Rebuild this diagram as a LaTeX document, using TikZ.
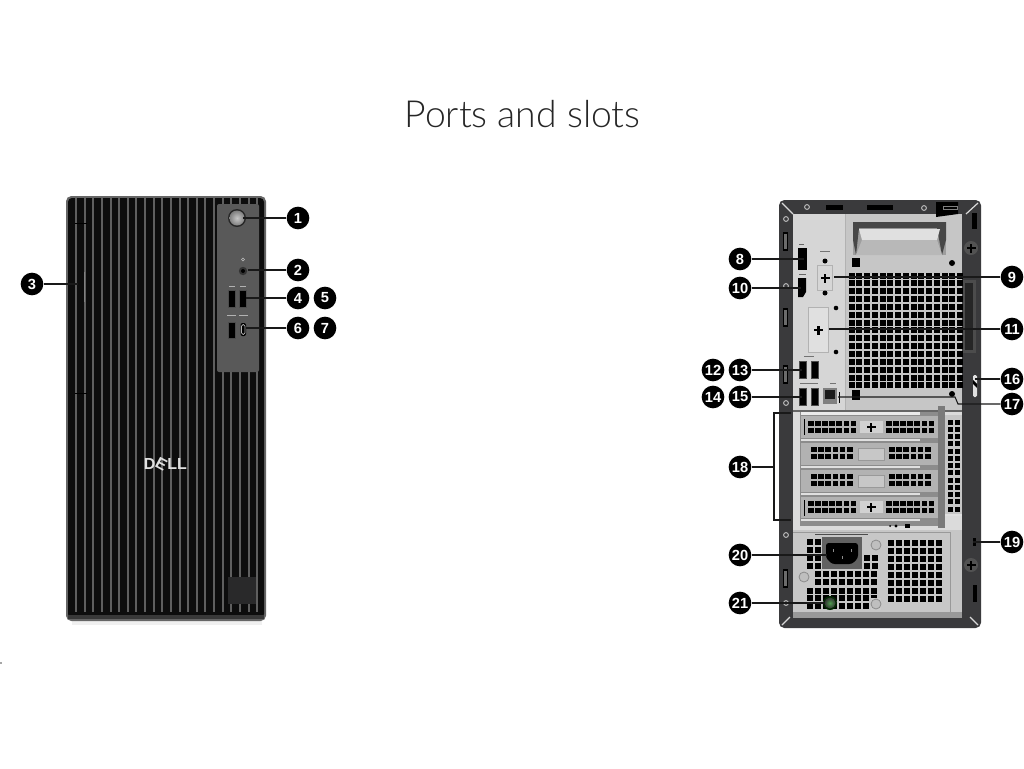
\documentclass[tikz,border=0pt]{standalone}
\usepackage{fontspec}
\setmainfont{Liberation Sans}
\newfontfamily\titlefont{Lato Light}
\usetikzlibrary{calc}
\definecolor{stripe}{HTML}{5F5F5F}
\definecolor{silver}{HTML}{C6C6C6}
\definecolor{framec}{HTML}{3A3A3C}
\tikzset{
  x=0.75pt,y=-0.75pt,
  badge/.style={circle,fill=black,text=white,inner sep=0pt,minimum size=17pt,font=\bfseries\fontsize{11}{12}\selectfont},
  leader/.style={draw=black!90,line width=0.8pt},
  usb/.style={fill=black,draw=black!70,line width=0.4pt},
  ring/.style={draw=white!75!black,line width=0.7pt,fill=framec},
}
% \ventgrid{x0}{y0}{cols}{rows}{dx}{dy}{w}{h}
\newcommand{\ventgrid}[8]{%
  \foreach \ci in {1,...,#3}{\foreach \cj in {1,...,#4}{%
    \fill[black] ({#1+(\ci-1)*#5},{#2+(\cj-1)*#6}) rectangle ++(#7,#8);}}}
\newcommand{\plusmark}[2]{%
  \fill[black] ({#1-4.5},{#2-1.2}) rectangle ({#1+4.5},{#2+1.2});
  \fill[black] ({#1-1.2},{#2-4.5}) rectangle ({#1+1.2},{#2+4.5});}
\begin{document}
\begin{tikzpicture}
\useasboundingbox (0,0) rectangle (1024,768);
\fill[white] (0,0) rectangle (1024,768);
\node[text=black!85,font=\titlefont\fontsize{28}{32}\selectfont] (title) at (522.5,114) {Ports and slots};
\fill[black!35] (0,662) rectangle (2,664);

%%% FRONT
\fill[black!6] (72,619) rectangle (262,625);
\fill[rounded corners=4pt,fill=black!60] (66,196) rectangle (266,621);
\fill[rounded corners=3pt,fill=black!95] (68,198) rectangle (264,618);
\fill[black!78] (68,615) rectangle (264,619);
\foreach \i in {0,...,21}{
  \fill[stripe] ({75+\i*8.63},198) rectangle ++(2,414);
}
\fill[black] (75,222.5) rectangle (87,224);
\fill[black] (75,392.5) rectangle (87,394);
\fill[black!50] (83.5,272) rectangle (85,302);
\fill[black!30!framec] (228,577) rectangle (256,604);
\fill[rounded corners=1.5pt,fill=black!65] (217,204) rectangle (259,372);
% front ports
\fill[black!85] (237,218) circle[radius=9];
\shade[inner color=black!22,outer color=black!50] (237,218) circle[radius=7.5];
\fill[black!80] (243,271) circle[radius=4.2];
\fill[black] (243,271) circle[radius=2];
\draw[white!75!black,line width=0.4pt] (243,259.5) circle[radius=1.6];
\fill[usb] (228,290) rectangle (235.5,307);
\fill[usb] (239,290) rectangle (246.5,307);
\fill[usb] (228,322) rectangle (235.5,338);
\fill[rounded corners=1.5pt,black] (240.5,323) rectangle (246,336);
\draw[white!70!black,rounded corners=1.2pt,line width=0.5pt] (241.5,324.5) rectangle (245,334.5);
\fill[white!70!black] (228.5,285.5) rectangle (234.5,286.3);
\fill[white!70!black] (239.5,285.5) rectangle (245.5,286.3);
\fill[white!70!black] (227,314.5) rectangle (236,315.3);
\fill[white!70!black] (238.5,314.5) rectangle (248,315.3);
% logo
\node[text=black!12,font=\bfseries\fontsize{12}{12}\selectfont,inner sep=1pt] (logo) at (165.5,464)
  {D\kern-1pt\rotatebox[origin=c]{-28}{E}\kern-1pt LL};

%%% REAR
\fill[rounded corners=4pt,fill=framec] (779,200) rectangle (981,628);
\fill[silver] (793,214) rectangle (962,612);
\fill[black!16] (793,214) rectangle (845,412);
\draw[black!30,line width=0.4pt] (845,214) -- (845,412);
% frame details
\fill[black] (826,205) rectangle (843,210);
\fill[black] (867,205) rectangle (893,210);
\fill[black] (936,202) -- (958,202) -- (958,214) -- (936,217) -- cycle;
\draw[black!50,line width=0.6pt] (943,206) rectangle (957,209);
\foreach \cx/\cy in {786/219,786/286,786/403,786/535,786/603,807/207,924/208}{
  \draw[ring] (\cx,\cy) circle[radius=2.4];
}
\foreach \cy in {232,308,365,569}{
  \fill[black] (783,\cy) rectangle ++(5,19);
  \fill[black!58] (784,{\cy+2}) rectangle ++(3,15);
}
\fill[black] (972,213) rectangle (977,229);
\fill[black] (973,585) rectangle (977,602);
\fill[black!70] (963,280) rectangle (976,353);
\fill[black!85] (965,283) rectangle (973,350);
\foreach \cx/\cy in {971/248,971/565}{
  \fill[black!68] (\cx,\cy) circle[radius=7];
  \plusmark{\cx}{\cy}
}
\fill[rounded corners=1pt,black!12] (973,375) rectangle (977,397);
\fill[black] (973,380) -- (977,384) -- (977,388) -- (973,384) -- cycle;
\fill[black] (973,538) rectangle (976,546);
\foreach \sx/\sy/\ex/\ey in {782/203/793/214,978/203/966/214,782/625/790/617,978/625/970/617}{
  \draw[white!85!black,line width=0.9pt] (\sx,\sy) -- (\ex,\ey);
}
% handle
\fill[black!38] (853,222) -- (946,222) -- (946,255) -- (853,255) -- cycle;
\fill[black!72] (853,222) -- (946,222) -- (946,240) -- (942,255) -- (937,228) -- (859,228) -- (856,255) -- (853,240) -- cycle;
\fill[white!88!black] (859,229) -- (940,229) -- (937,240) -- (862,240) -- cycle;
\fill[black!28] (862,240) -- (937,240) -- (942,255) -- (856,255) -- cycle;
% vents upper
\fill[black] (852,258) rectangle (860,267);
\fill[black] (952,263) circle[radius=3];
\ventgrid{848.5}{272.5}{15}{15}{7.75}{7.85}{6}{6}
% left panel ports
\fill[black] (798,248) -- (807,248) -- (807,270) -- (798,270) -- cycle;
\fill[black] (798,278) -- (806,278) -- (806,292) -- (803,297) -- (798,297) -- cycle;
\fill[black!60] (798.5,244) rectangle (804,245);
\fill[black!60] (798.5,274) rectangle (806,275);
\draw[black!30,line width=0.4pt] (817,265) rectangle (832,290);
\plusmark{825}{278}
\fill[black] (825,261) circle[radius=2.5];
\fill[black] (825,293) circle[radius=2.5];
\fill[black!55] (820,251) rectangle (830,252);
\draw[black!30,line width=0.4pt,fill=black!12] (808,307) rectangle (828,352);
\plusmark{818.5}{330}
\fill[black] (836,308) circle[radius=2.3];
\fill[black] (836,352) circle[radius=2.3];
% usb rear
\foreach \ux/\uy in {799/361,811/361,799/388,811/388}{
  \fill[usb] (\ux,\uy) rectangle ++(7.5,17);
}
\fill[black!55] (804,356) rectangle (814,357);
\fill[black!55] (800,383) rectangle (818,384);
\fill[black!55] (830,383) rectangle (836,384);
% rj45
\fill[black!50] (823,388) rectangle (837,404);
\fill[black!90] (824.5,390) rectangle (835,399);
\fill[black] (838.5,392) rectangle (840,403);
\fill[black] (852,390) rectangle (860,400);
\fill[black] (952,394) circle[radius=3];
% lower silver area
\fill[black!60] (793,410) rectangle (962,412);
\fill[black!14] (793,412) rectangle (962,530);
\fill[black!45] (800,412) rectangle (940,526);
% slots
\foreach \ty/\by in {416/438,443/465,470/492,497/518}{
  \fill[black!30] (801,\ty) rectangle (938,\by);
}
\foreach \ty in {438.5,465.5,492.5,518.5}{
  \fill[white!88!black] (801,\ty) rectangle (920,{\ty+2.5});
}
\fill[black!8] (801,412) rectangle (920,414.5);
\fill[black] (804,419) rectangle (805,435);
\fill[black] (804,500) rectangle (805,516);
\ventgrid{808}{421}{7}{2}{7.1}{6.6}{5.6}{5.4}
\ventgrid{886}{421}{7}{2}{7.1}{6.6}{5.6}{5.4}
\ventgrid{808}{501}{7}{2}{7.1}{6.6}{5.6}{5.4}
\ventgrid{886}{501}{7}{2}{7.1}{6.6}{5.6}{5.4}
\ventgrid{811}{447}{6}{2}{7.2}{7}{5.6}{5.4}
\ventgrid{889}{447}{6}{2}{7.2}{7}{5.6}{5.4}
\ventgrid{811}{474}{6}{2}{7.2}{7}{5.6}{5.4}
\ventgrid{889}{474}{6}{2}{7.2}{7}{5.6}{5.4}
\foreach \py in {427,507}{
  \fill[black!18] (860,{\py-6}) rectangle (883,{\py+6});
  \plusmark{871}{\py}
}
\foreach \py in {448,475}{
  \fill[black!22] (858,\py) rectangle (884,{\py+12});
  \draw[black!40,line width=0.4pt] (858,\py) rectangle (884,{\py+12});
}
\fill[black!52] (938,406) rectangle (945,528);
\fill[silver] (945,415) rectangle (962,516);
\ventgrid{947.5}{419.5}{2}{13}{7.6}{7.25}{5.2}{5.2}
\fill[white!88!black] (945,514) rectangle (962,516);
% small dots
\fill[black] (890,526) circle[radius=1];
\fill[black] (896,526) circle[radius=1.6];
\fill[black] (905,524) rectangle (910,528);
% PSU
\fill[black!22] (793,532) rectangle (950,618);
\draw[black!40,line width=0.5pt] (793,532) -- (950,532) -- (950,618);
\fill[black!40] (793,612) rectangle (962,618);
\ventgrid{807}{539}{2}{4}{8}{8}{6}{6}
\ventgrid{863.5}{555}{2}{2}{8}{8}{6}{6}
\ventgrid{815}{571}{8}{2}{8.05}{8}{6}{6}
\ventgrid{807}{587.5}{9}{3}{8}{7.6}{6}{6}
\ventgrid{888}{539.5}{7}{8}{8}{8}{6}{6}
\fill[black!62] (822,537) rectangle (862,569);
\fill[black,rounded corners=2pt] (826,543) -- (858,543) -- (858,558) -- (852,564) -- (832,564) -- (826,558) -- cycle;
\foreach \cx/\cy in {833/549,851/549,842/556}{
  \fill[black!45] (\cx,\cy) rectangle ++(1,3);
}
\draw[black!70,line width=0.5pt] (815,534) -- (868,534);
\foreach \cx/\cy in {876/545,804/577}{
  \draw[black!45,fill=black!25,line width=0.6pt] (\cx,\cy) circle[radius=5];
}
\fill[black!20] (871,598) rectangle (881,610);
\draw[black!45,fill=black!25,line width=0.6pt] (876,604) circle[radius=5];
\fill[black!85!green] (830,603) circle[radius=7];
\shade[inner color=green!45!black!70,outer color=black!80] (830,603) circle[radius=5.5];

%%% BADGES
\foreach \nm/\tx/\bx/\by in {
  b1/1/298/218, b2/2/298/270, b3/3/32/284, b4/4/298/298, b5/5/325/298, b6/6/298/328, b7/7/325/328,
  b8/8/740/259, b9/9/1012/277, b10/10/740/288, b11/11/1012/329, b12/12/713/370, b13/13/740/370,
  b14/14/713/397, b15/15/740/397, b16/16/1012/379, b17/17/1012/404, b18/18/740/467, b19/19/1012/542,
  b20/20/740/555, b21/21/740/603}{
  \node[badge] (\nm) at (\bx,\by) {\tx};
}
%%% TARGETS
\coordinate (p1) at (243,218);
\coordinate (p2) at (248,270);
\coordinate (p3) at (78,284);
\coordinate (p4) at (246,298);
\coordinate (p6) at (246,328);
\coordinate (p8) at (804,259);
\coordinate (p9) at (834,277);
\coordinate (p10) at (801,288);
\coordinate (p11) at (829,329);
\coordinate (p13) at (802,370);
\coordinate (p15) at (802,397);
\coordinate (p16) at (975,379);
\coordinate (p17a) at (958,404);
\coordinate (p17b) at (955,397);
\coordinate (p17c) at (838,397);
\coordinate (br1) at (791,413);
\coordinate (br2) at (774,413);
\coordinate (br3) at (774,520);
\coordinate (br4) at (791,520);
\coordinate (brm) at (774,467);
\coordinate (p19) at (973,542);
\coordinate (p20) at (827,555);
\coordinate (p21) at (825,603);
\foreach \a/\b in {b1/p1,b2/p2,b3/p3,b4/p4,b6/p6,b8/p8,b9/p9,b10/p10,b11/p11,b13/p13,b15/p15,b16/p16,b18/brm,b19/p19,b20/p20,b21/p21}{
  \draw[leader] (\a) -- (\b);
}
\draw[leader] (b17) -- (p17a) -- (p17b) -- (p17c);
\draw[leader] (br1) -- (br2) -- (br3) -- (br4);
\end{tikzpicture}
\end{document}
